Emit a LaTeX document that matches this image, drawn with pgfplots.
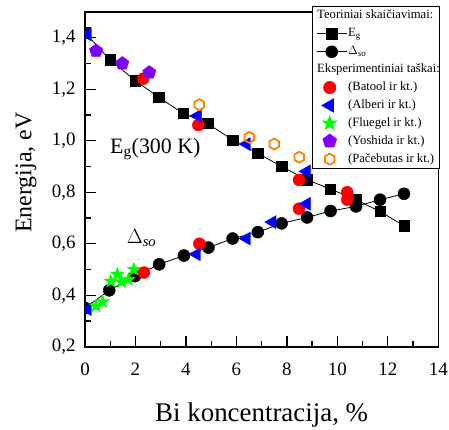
\documentclass[border=0pt]{standalone}
\usepackage{fontspec}
\setmainfont{Liberation Serif}
\usepackage{pgfplots}
\pgfplotsset{compat=1.18}
\usetikzlibrary{plotmarks}
\definecolor{mypurple}{RGB}{128,0,255}
\definecolor{myorange}{RGB}{255,128,0}
\definecolor{mygreen}{RGB}{0,255,0}
\pgfdeclareplotmark{fstar}{%
  \pgfpathmoveto{\pgfpointpolar{90}{\pgfplotmarksize}}%
  \pgfpathlineto{\pgfpointpolar{126}{0.42\pgfplotmarksize}}%
  \pgfpathlineto{\pgfpointpolar{162}{\pgfplotmarksize}}%
  \pgfpathlineto{\pgfpointpolar{198}{0.42\pgfplotmarksize}}%
  \pgfpathlineto{\pgfpointpolar{234}{\pgfplotmarksize}}%
  \pgfpathlineto{\pgfpointpolar{270}{0.42\pgfplotmarksize}}%
  \pgfpathlineto{\pgfpointpolar{306}{\pgfplotmarksize}}%
  \pgfpathlineto{\pgfpointpolar{342}{0.42\pgfplotmarksize}}%
  \pgfpathlineto{\pgfpointpolar{18}{\pgfplotmarksize}}%
  \pgfpathlineto{\pgfpointpolar{54}{0.42\pgfplotmarksize}}%
  \pgfpathclose
  \pgfusepathqfillstroke}
\pgfdeclareplotmark{hexagon}{%
  \pgfpathmoveto{\pgfpointpolar{90}{\pgfplotmarksize}}%
  \pgfpathlineto{\pgfpointpolar{150}{\pgfplotmarksize}}%
  \pgfpathlineto{\pgfpointpolar{210}{\pgfplotmarksize}}%
  \pgfpathlineto{\pgfpointpolar{270}{\pgfplotmarksize}}%
  \pgfpathlineto{\pgfpointpolar{330}{\pgfplotmarksize}}%
  \pgfpathlineto{\pgfpointpolar{30}{\pgfplotmarksize}}%
  \pgfpathclose
  \pgfusepathqstroke}
\pgfplotsset{
  legtitle/.style={legend image code/.code={\node[overlay,anchor=west,inner sep=0pt,text height=9bp,text depth=3bp] at (0bp,0bp) {#1};}},
  theory/.style={legend image code/.code={\draw[mark repeat=2,mark phase=2,##1] plot coordinates {(0bp,0bp) (15bp,0bp) (30bp,0bp)};}},
  expt/.style={only marks, legend image code/.code={\draw[##1] plot coordinates {(13bp,0bp)};}},
}
\begin{document}
\begin{tikzpicture}
\path[use as bounding box] (-85bp,-83.3bp) rectangle (364bp,346.7bp);
\begin{axis}[
  at={(0,0)}, anchor=south west,
  scale only axis, width=353.3bp, height=334.7bp,
  xmin=0, xmax=14, ymin=0.2, ymax=1.5,
  xtick={0,2,...,14}, minor xtick={1,3,...,13},
  ytick={0.2,0.4,0.6,0.8,1.0,1.2,1.4}, minor ytick={0.3,0.5,0.7,0.9,1.1,1.3,1.5},
  tick align=inside, xtick pos=left, ytick pos=left,
  major tick length=11bp, minor tick length=6bp,
  axis line style={line width=1.6bp},
  every tick/.style={black, line width=1.3bp},
  /pgf/number format/assume math mode=true,
  tick label style={font=\fontsize{19}{22}\selectfont},
  xticklabel style={yshift=-13bp},
  yticklabel style={xshift=-6bp, /pgf/number format/.cd, use comma, fixed, fixed zerofill, precision=1},
  xlabel={Bi koncentracija, \%},
  ylabel={Energija, eV},
  xlabel style={font=\fontsize{27}{30}\selectfont, at={(axis description cs:0.5,0)}, anchor=base, yshift=-75bp},
  ylabel style={font=\fontsize{24}{28}\selectfont, at={(axis description cs:-0.152,0.52)}, anchor=base},
  clip marker paths=true,
  legend cell align=left,
  legend style={at={(0.642,1.018)}, anchor=north west, draw=black, line width=1bp, fill=white,
    font=\fontsize{12.7}{14}\selectfont, inner xsep=4bp, inner ysep=2.5bp, row sep=3.9bp,
    nodes={inner sep=1bp, text height=9bp, text depth=3bp}},
]
\addlegendimage{legtitle={Teoriniai skaičiavimai:}}
\addlegendentry{}
\addplot[theory, black, line width=0.8bp, mark=square*, mark size=5.2bp, mark options={solid, line width=0.5bp}]
coordinates {(0,1.42) (0.99,1.314) (2.0,1.233) (2.93,1.168) (3.89,1.106) (4.86,1.067) (5.85,1.003) (6.85,0.951) (7.79,0.900) (8.81,0.848) (9.73,0.812) (10.74,0.771) (11.69,0.725) (12.64,0.670)};
\addlegendentry{E\textsubscript{g}}
\addplot[theory, black, line width=0.8bp, mark=*, mark size=6bp, mark options={solid, line width=0.5bp}]
coordinates {(0,0.35) (0.96,0.419) (1.98,0.474) (2.94,0.520) (3.92,0.554) (4.89,0.585) (5.85,0.620) (6.85,0.645) (7.79,0.679) (8.80,0.702) (9.73,0.727) (10.74,0.745) (11.69,0.771) (12.64,0.794)};
\addlegendentry{$\Delta$\textsubscript{\textit{so}}}
\addlegendimage{legtitle={Eksperimentiniai taškai:}}
\addlegendentry{}
\addplot[expt, red, mark=*, mark size=6bp]
coordinates {(-0.02,1.425) (2.31,1.241) (4.49,1.061) (8.48,0.848) (10.39,0.800) (10.39,0.771) (8.48,0.736) (4.53,0.600) (2.34,0.488) (-0.02,0.36)};
\addlegendentry{(Batool ir kt.)}
\addplot[expt, blue, mark=triangle*, mark size=7.5bp, mark options={rotate=90}]
coordinates {(0.1,1.413) (0.1,0.346) (4.46,1.097) (6.40,0.987) (8.78,0.881) (4.42,0.559) (6.40,0.620) (7.42,0.684) (8.78,0.755)};
\addlegendentry{(Alberi ir kt.)}
\addplot[expt, mygreen, mark=fstar, mark size=7bp]
coordinates {(0.44,0.358) (0.70,0.374) (1.02,0.454) (1.28,0.481) (1.45,0.452) (1.72,0.461) (1.94,0.500)};
\addlegendentry{(Fluegel ir kt.)}
\addplot[expt, mypurple, mark=pentagon*, mark size=7bp]
coordinates {(0.44,1.349) (1.48,1.300) (2.55,1.265)};
\addlegendentry{(Yoshida ir kt.)}
\addplot[expt, myorange, mark=hexagon, mark size=5.5bp, mark options={line width=1.8bp}]
coordinates {(4.53,1.140) (6.51,1.013) (7.50,0.987) (8.49,0.936)};
\addlegendentry{(Pačebutas ir kt.)}
\node[anchor=base west, font=\fontsize{22}{24}\selectfont, inner sep=0pt] at (axis cs:0.99,0.950) {E\textsubscript{g}(300 K)};
\node[anchor=base west, font=\fontsize{21}{24}\selectfont, inner sep=0pt] at (axis cs:1.65,0.600) {$\Delta$\textsubscript{\textit{so}}};
\end{axis}
\end{tikzpicture}
\end{document}
